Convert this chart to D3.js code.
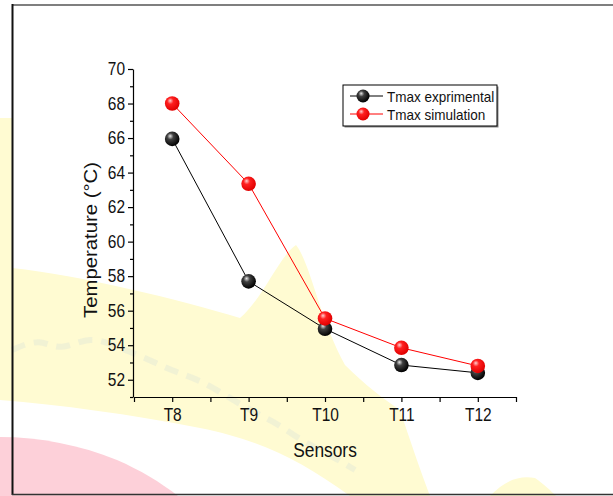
<!DOCTYPE html>
<html>
<head>
<meta charset="utf-8">
<script src="https://cdn.jsdelivr.net/npm/d3@7"></script>
<style>
  body { margin: 0; background: #fff; }
  svg { display: block; font-family: "Liberation Sans", Arial, sans-serif; }
</style>
</head>
<body>
<svg id="chart" width="613" height="496"></svg>
<script>
// data
var sensors = ["T8", "T9", "T10", "T11", "T12"];
var tmaxExp = [65.95, 57.7, 54.95, 52.85, 52.4];
var tmaxSim = [68.0, 63.35, 55.55, 53.85, 52.8];
var yMajor = [52, 54, 56, 58, 60, 62, 64, 66, 68, 70];
var yMinor = [51, 53, 55, 57, 59, 61, 63, 65, 67, 69];
var seriesNames = ["Tmax exprimental", "Tmax simulation"];
var seriesCols = ["#000000", "#ff0000"];

var svg = d3.select("#chart");

var x = d3.scaleLinear().domain([-0.5, sensors.length - 0.5]).range([134, 516]);
var y = d3.scaleLinear().domain([51, 70]).range([397, 69]);

// text in the source picture is a bit tall and narrow
function squeeze(sel, k) {
  sel.each(function() {
    var w = this.getComputedTextLength();
    d3.select(this).attr("textLength", w * k).attr("lengthAdjust", "spacingAndGlyphs");
  });
}

// ball gradients
var defs = svg.append("defs");
function ballGrad(id, hi, mid, base) {
  var g = defs.append("radialGradient").attr("id", id)
    .attr("cx", "40%").attr("cy", "38%").attr("r", "62%")
    .attr("fx", "36%").attr("fy", "30%");
  g.append("stop").attr("offset", "0%").attr("stop-color", hi);
  g.append("stop").attr("offset", "35%").attr("stop-color", mid);
  g.append("stop").attr("offset", "100%").attr("stop-color", base);
}
ballGrad("gBlack", "#e8e8e8", "#404040", "#000000");
ballGrad("gRed", "#ffd0d0", "#ff2020", "#e00000");

// watermark-ish background
var bg = svg.append("g");
bg.append("path")
  .attr("d", "M0,118 L12,118 L12,268 C80,275 180,300 240,318 C262,300 280,255 296,245 C310,262 320,320 345,365 C365,385 385,400 400,410 C410,440 420,470 430,496 L350,496 C300,460 260,440 200,428 C130,414 60,405 0,400 Z")
  .attr("fill", "#fffbd2");
bg.append("path")
  .attr("d", "M490,496 C505,480 520,475 535,478 C545,485 550,490 556,496 Z")
  .attr("fill", "#fffbd2");
bg.append("path")
  .attr("d", "M0,437 C40,437 80,445 117,460 C140,470 160,482 178,496 L0,496 Z")
  .attr("fill", "#fdd0d9");
var scribble = [[12,350],[40,338],[60,352],[90,335],[120,348],[150,360],[175,372],[200,380],[225,395],[250,410],[280,425],[300,440],[330,455],[355,470]];
bg.append("path")
  .attr("d", d3.line().curve(d3.curveBasis)(scribble))
  .attr("fill", "none").attr("stroke", "#dfe6d6").attr("stroke-width", 6)
  .attr("stroke-dasharray", "14 9").attr("opacity", 0.45);

// frame
svg.append("line").attr("x1", 12).attr("x2", 613).attr("y1", 5).attr("y2", 5)
  .attr("stroke", "#555").attr("stroke-width", 1.5);
svg.append("line").attr("x1", 12.5).attr("x2", 12.5).attr("y1", 4).attr("y2", 495)
  .attr("stroke", "#111").attr("stroke-width", 2);
svg.append("line").attr("x1", 12).attr("x2", 613).attr("y1", 494.5).attr("y2", 494.5)
  .attr("stroke", "#333").attr("stroke-width", 1.5);

// axes
svg.append("g").attr("transform", "translate(133,0)")
  .call(d3.axisLeft(y).tickValues(yMajor).tickSize(5).tickSizeOuter(0).tickPadding(3));
svg.append("g").attr("transform", "translate(133,0)")
  .call(d3.axisLeft(y).tickValues(yMinor).tickSize(3).tickSizeOuter(0).tickFormat(""))
  .select(".domain").remove();

svg.append("g").attr("transform", "translate(0,397)")
  .call(d3.axisBottom(x).tickValues(d3.range(sensors.length))
    .tickFormat(function(d) { return sensors[d]; })
    .tickSize(5).tickSizeOuter(0).tickPadding(6));
svg.append("g").attr("transform", "translate(0,397)")
  .call(d3.axisBottom(x).tickValues(d3.range(-0.5, sensors.length, 1))
    .tickSize(5).tickFormat(""))
  .select(".domain").remove();

svg.selectAll(".tick text").attr("fill", "#111").style("font-size", "18px").call(squeeze, 0.86);
svg.selectAll(".domain, .tick line").attr("stroke", "#000").attr("stroke-width", 1.2);

// axis titles
svg.append("text").attr("x", 325).attr("y", 457)
  .attr("text-anchor", "middle").attr("fill", "#111").style("font-size", "19.5px")
  .text("Sensors").call(squeeze, 0.89);
svg.append("text").attr("transform", "translate(97,240) rotate(-90)")
  .attr("text-anchor", "middle").attr("fill", "#111").style("font-size", "18px")
  .attr("textLength", 156).attr("lengthAdjust", "spacingAndGlyphs")
  .text("Temperature (°C)");

// series
var series = [tmaxExp, tmaxSim];
var grads = ["url(#gBlack)", "url(#gRed)"];
var line = d3.line().x(function(d, i) { return x(i); }).y(function(d) { return y(d); });

series.forEach(function(vals, k) {
  svg.append("path").datum(vals)
    .attr("d", line).attr("fill", "none")
    .attr("stroke", seriesCols[k]).attr("stroke-width", 1);
});
series.forEach(function(vals, k) {
  svg.append("g").selectAll("circle").data(vals).enter()
    .append("circle")
    .attr("cx", function(d, i) { return x(i); })
    .attr("cy", function(d) { return y(d); })
    .attr("r", 7.3)
    .attr("fill", grads[k]);
});

// legend
var lg = svg.append("g").attr("transform", "translate(343,85)");
lg.append("rect").attr("x", 1.5).attr("y", 1.5).attr("width", 154).attr("height", 41)
  .attr("fill", "#888");
lg.append("rect").attr("width", 154).attr("height", 41)
  .attr("fill", "#fff").attr("stroke", "#000").attr("stroke-width", 1);
seriesNames.forEach(function(name, k) {
  var yy = 11 + k * 18;
  lg.append("line").attr("x1", 7).attr("x2", 40).attr("y1", yy).attr("y2", yy)
    .attr("stroke", seriesCols[k]).attr("stroke-width", 1);
  lg.append("circle").attr("cx", 20).attr("cy", yy).attr("r", 6.5).attr("fill", grads[k]);
  lg.append("text").attr("x", 44).attr("y", yy + 5.5)
    .attr("fill", "#111").style("font-size", "15px")
    .text(name).call(squeeze, 0.9);
});
</script>
</body>
</html>
